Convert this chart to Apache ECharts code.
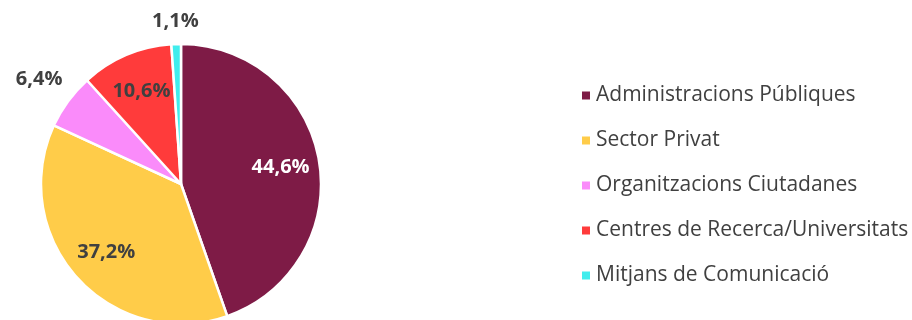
<!DOCTYPE html>
<html>
<head>
<meta charset="utf-8">
<script src="https://cdn.jsdelivr.net/npm/echarts@6/dist/echarts.min.js"></script>
<style>html,body{margin:0;padding:0;background:#fff}#c{width:912px;height:320px}</style>
</head>
<body>
<div id="c"></div>
<script>
const categories = ['Administracions Públiques', 'Sector Privat', 'Organitzacions Ciutadanes', 'Centres de Recerca/Universitats', 'Mitjans de Comunicació'];
const values = [44.6, 37.2, 6.4, 10.6, 1.1];
const labelTexts = ['44,6%', '37,2%', '6,4%', '10,6%', '1,1%'];
const colors = ['#7E1B46', '#FFCC49', '#FA8BFA', '#FF3B3B', '#40EDED'];

const innerLabelIdx = [0, 1, 3];
const outerA = [2];
const outerB = [4];

const chart = echarts.init(document.getElementById('c'), null, {renderer: 'canvas'});
const center = [181, 184];
const labelBase = {fontFamily: 'Open Sans', fontWeight: 'bold', fontSize: 20, color: '#404040'};

function helper(radius, idxs) {
  return {
    type: 'pie', radius: radius, center: center, startAngle: 90, clockwise: true,
    silent: true, animation: false, avoidLabelOverlap: false,
    itemStyle: {color: 'rgba(0,0,0,0)', borderWidth: 0},
    labelLine: {show: false},
    data: categories.map((c, i) => ({
      name: c, value: values[i],
      label: {show: idxs.includes(i), position: 'inside', formatter: labelTexts[i], ...labelBase,
              color: i === 0 ? '#FFFFFF' : '#404040'}
    }))
  };
}

chart.setOption({
  animation: false,
  legend: {
    orient: 'vertical', left: 575, top: 80,
    icon: 'rect', itemWidth: 10, itemHeight: 10, itemGap: 24,
    data: categories,
    textStyle: {fontFamily: 'Open Sans', fontSize: 21, color: '#404040', lineHeight: 21}
  },
  series: [
    {
      type: 'pie', radius: 140, center: center, startAngle: 90, clockwise: true,
      animation: false, avoidLabelOverlap: false, legendHoverLink: false,
      itemStyle: {borderColor: '#FFFFFF', borderWidth: 2.5},
      label: {show: false}, labelLine: {show: false},
      data: categories.map((c, i) => ({name: c, value: values[i], itemStyle: {color: colors[i]}}))
    },
    helper([56, 140], innerLabelIdx),
    helper([150, 196], outerA),
    helper([150, 170], outerB)
  ]
});
</script>
</body>
</html>
